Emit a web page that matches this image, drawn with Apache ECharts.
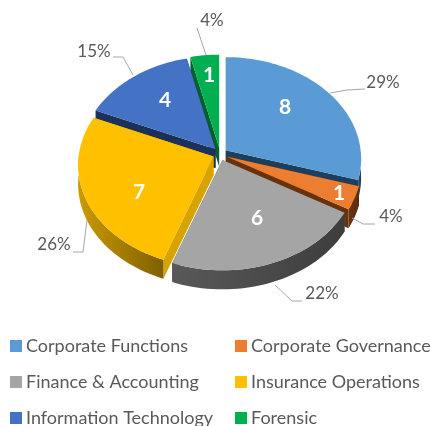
<!DOCTYPE html>
<html>
<head>
<meta charset="utf-8">
<style>html,body{margin:0;padding:0;background:#fff}#chart{width:431px;height:426px}</style>
<script src="https://cdn.jsdelivr.net/npm/echarts@6/dist/echarts.min.js"></script>
</head>
<body>
<div id="chart"></div>
<script>
// data
var categories = ['Corporate Functions','Corporate Governance','Finance & Accounting','Insurance Operations','Information Technology','Forensic'];
var values = [8,1,6,7,4,1];
var percents = ['29%','4%','22%','26%','15%','4%'];

// look
var topColors = ['#5b9bd5','#ed7d31','#a5a5a5','#ffc000','#4472c4','#00b050'];
var wallColors = [['#2a4f72','#1f3d5a'],['#6b3410','#5a2c0c'],['#595959','#3d3d3d'],['#cc9a00','#7f6000'],['#1f3864','#1f3864'],['#00602c','#00602c']];
var faceColors = ['#1d3f5e','#6a3208','#555555','#d6a300','#1b3159','#00602c'];

// layout of the fake 3D pie
var cx = 220, cy = 154, rx = 135, ry = 101, persp = 0.085, depth = 19, explode = 7;
var valueLabelPos = [[285,107],[339,193],[257,218],[139,192],[165,100],[209,75]];
var pctLabelPos = [[383,83],[391,217],[322,294],[54,245],[94,52],[212,21]];
var leaders = [
  [[330,93],[347,90],[365,89]],
  [[352,218],[363,224],[375,224]],
  [[275,285],[292,301],[302,301]],
  [[87,220],[83,252],[73,252]],
  [[133,75],[123,57],[113,57]],
  [[206,55],[197,28]]
];
var drawOrder = [5,4,0,1,3,2];

var total = values.reduce(function(a,b){return a+b;},0);
var startAngle = [], acc = 0;
values.forEach(function(v){ startAngle.push(acc); acc += v/total*360; });

function proj(deg, ox, oy, frac){
  var t = deg*Math.PI/180, u = Math.sin(t), v = -Math.cos(t), s = 1/(1-persp*v);
  return [ox + rx*u*s*frac, oy + ry*v*s*frac];
}

function sliceRender(i){
  return function(params, api){
    var sweep = api.value(0)/total*360, a0 = startAngle[i], a1 = a0+sweep, mid = (a0+a1)/2*Math.PI/180;
    var ox = cx + explode*Math.sin(mid), oy = cy - explode*Math.cos(mid)*0.9;
    var apex = [ox,oy], arc = [], d;
    for (d=a0; d<a1; d+=2) arc.push(proj(d,ox,oy,1));
    arc.push(proj(a1,ox,oy,1));
    var down = function(p){ return [p[0],p[1]+depth]; };
    var kids = [];
    [arc[0],arc[arc.length-1]].forEach(function(p){
      kids.push({type:'polygon',shape:{points:[apex,p,down(p),down(apex)]},style:{fill:faceColors[i]}});
    });
    var front = arc.filter(function(p){ return p[1] >= oy; });
    if (front.length>1) {
      kids.push({type:'polygon',shape:{points:front.concat(front.map(down).reverse())},style:{
        fill:new echarts.graphic.LinearGradient(0,0,1,0,[{offset:0,color:wallColors[i][0]},{offset:1,color:wallColors[i][1]}])
      }});
    }
    kids.push({type:'polygon',shape:{points:[apex].concat(arc)},style:{fill:topColors[i]}});
    kids.push({type:'text',style:{text:String(api.value(0)),x:valueLabelPos[i][0],y:valueLabelPos[i][1],fill:'#fff',
      font:'bold 21px Lato',align:'center',verticalAlign:'middle'}});
    kids.push({type:'polyline',shape:{points:leaders[i]},style:{stroke:'#a6a6a6',lineWidth:1,fill:'none'}});
    kids.push({type:'text',style:{text:percents[i],x:pctLabelPos[i][0],y:pctLabelPos[i][1],fill:'#595959',
      font:'17px Lato',align:'center',verticalAlign:'middle'}});
    return {type:'group',children:kids};
  };
}

var series = categories.map(function(name,i){
  return {
    name:name, type:'custom', coordinateSystem:'none', silent:true, animation:false,
    z:2+drawOrder.indexOf(i),
    itemStyle:{color:topColors[i]},
    data:[[values[i]]],
    renderItem:sliceRender(i)
  };
});

function legendCol(left, names){
  return {
    left:left, top:337, height:120, orient:'vertical', itemWidth:12, itemHeight:12, itemGap:18, icon:'rect',
    selectedMode:false, padding:0, data:names,
    textStyle:{color:'#595959',fontFamily:'Lato',fontSize:18,lineHeight:16,padding:[0,0,0,-1]}
  };
}

var chart = echarts.init(document.getElementById('chart'),null,{renderer:'canvas'});
chart.setOption({
  animation:false,
  backgroundColor:'#fff',
  legend:[
    legendCol(10,[categories[0],categories[2],categories[4]]),
    legendCol(235,[categories[1],categories[3],categories[5]])
  ],
  series:series
});
</script>
</body>
</html>
